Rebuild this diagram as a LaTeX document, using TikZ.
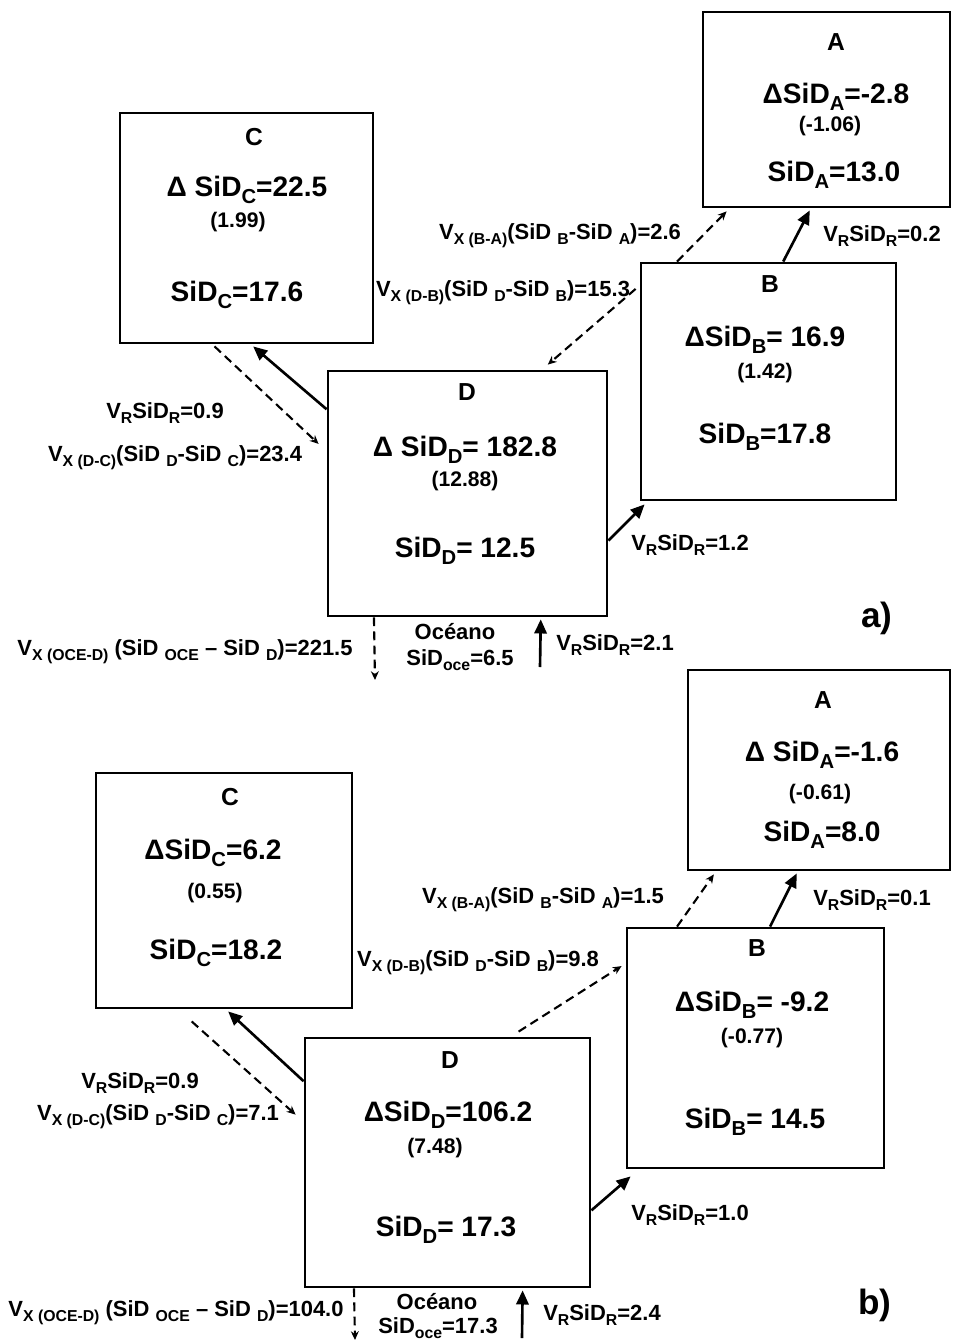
\documentclass[tikz,border=0pt]{standalone}
\usepackage{fontspec}
\usepackage{graphicx}
\setmainfont{Liberation Sans}
\usetikzlibrary{arrows.meta, calc}
\newcommand{\lo}[1]{\raisebox{-0.45ex}{\scalebox{0.72}{#1}}}

\begin{document}
\begin{tikzpicture}[x=0.02cm, y=-0.02cm,
    every node/.style={font=\bfseries\fontsize{12.5}{15}\selectfont, inner sep=1pt},
    box/.style 2 args={draw, line width=1.6pt, minimum width=#1*0.02cm,
                       minimum height=#2*0.02cm, inner sep=0pt},
    big/.style={font=\bfseries\fontsize{16}{19}\selectfont},
    ttl/.style={font=\bfseries\fontsize{14}{16}\selectfont},
    small/.style={font=\bfseries\fontsize{12}{14}\selectfont},
    flow/.style={line width=1.5pt, -{Triangle[length=8pt,width=7pt]}},
    mix/.style={line width=1.2pt, dash pattern=on 5pt off 3pt,
                -{Stealth[length=5pt,width=4.5pt]}},
  ]
  \useasboundingbox (0,0) rectangle (953,1342);

  % ---------- a) ----------
  \node[box={247}{195}] (aA) at (826.5,109.5) {};
  \node[box={253}{230}] (aC) at (246.5,228) {};
  \node[box={255}{237}] (aB) at (768.5,381.5) {};
  \node[box={279}{245}] (aD) at (467.5,493.5) {};

  \node[ttl]   (aAt) at (836,42)  {A};
  \node[big]   (aAd) at (836,97)  {ΔSiD\lo{A}=-2.8};
  \node[small] (aAp) at (830,126) {(-1.06)};
  \node[big]   (aAs) at (834,175) {SiD\lo{A}=13.0};

  \node[ttl]   (aCt) at (254,137) {C};
  \node[big]   (aCd) at (247,190) {Δ SiD\lo{C}=22.5};
  \node[small] (aCp) at (238,222) {(1.99)};
  \node[big]   (aCs) at (237,295) {SiD\lo{C}=17.6};

  \node[ttl]   (aBt) at (770,284) {B};
  \node[big]   (aBd) at (765,340) {ΔSiD\lo{B}= 16.9};
  \node[small] (aBp) at (765,373) {(1.42)};
  \node[big]   (aBs) at (765,437) {SiD\lo{B}=17.8};

  \node[ttl]   (aDt) at (467,392) {D};
  \node[big]   (aDd) at (465,450) {Δ SiD\lo{D}= 182.8};
  \node[small] (aDp) at (465,481) {(12.88)};
  \node[big]   (aDs) at (465,551) {SiD\lo{D}= 12.5};

  \draw[mix]  ($(aB.north west)!.145!(aB.north east)$)
           -- ($(aA.south west)!.10!(aA.south east)+(0,3)$);
  \draw[flow] ($(aB.north west)!.557!(aB.north east)$)
           -- ($(aA.south west)!.433!(aA.south east)+(0,2)$);
  \draw[mix]  ($(aB.north west)!.114!(aB.south west)+(-4,0)$)
           -- ($(aD.north west)!.785!(aD.north east)+(0,-5)$);
  \draw[flow] ($(aD.north west)!.16!(aD.south west)$)
           -- ($(aC.south west)!.526!(aC.south east)+(0,2)$);
  \draw[mix]  ($(aC.south west)!.375!(aC.south east)+(0,2)$)
           -- ($(aD.north west)!.30!(aD.south west)+(-8,0)$);
  \draw[flow] ($(aD.north east)!.69!(aD.south east)$)
           -- ($(aB.south west)+(5,3)$);
  \coordinate (aOut) at (375,680);
  \coordinate (aIn) at (540,667);
  \draw[mix]  ($(aD.south west)!.168!(aD.south east)$) -- (aOut);
  \draw[flow] (aIn) -- ($(aD.south west)!.76!(aD.south east)+(0,2)$);

  \node (aL1) at (560,236) {V\lo{X (B-A)}(SiD \lo{B}-SiD \lo{A})=2.6};
  \node (aL2) at (882,236) {V\lo{R}SiD\lo{R}=0.2};
  \node (aL3) at (503,293) {V\lo{X (D-B)}(SiD \lo{D}-SiD \lo{B})=15.3};
  \node (aL4) at (165,413) {V\lo{R}SiD\lo{R}=0.9};
  \node (aL5) at (175,458) {V\lo{X (D-C)}(SiD \lo{D}-SiD \lo{C})=23.4};
  \node (aL6) at (690,545) {V\lo{R}SiD\lo{R}=1.2};
  \node (aL7) at (185,652) {V\lo{X (OCE-D)} (SiD \lo{OCE} – SiD \lo{D})=221.5};
  \node (aOc) at (455,632) {Océano};
  \node (aOs) at (460,660) {SiD\lo{oce}=6.5};
  \node (aL8) at (615,645) {V\lo{R}SiD\lo{R}=2.1};
  \node[font=\bfseries\fontsize{20}{24}\selectfont] (aTag) at (877,618) {a)};

  % ---------- b) ----------
  \node[box={262}{200}] (bA) at (819,770) {};
  \node[box={256}{235}] (bC) at (224,890.5) {};
  \node[box={257}{240}] (bB) at (755.5,1048) {};
  \node[box={285}{249}] (bD) at (447.5,1162.5) {};

  \node[ttl]   (bAt) at (823,700)  {A};
  \node[big]   (bAd) at (822,755)  {Δ SiD\lo{A}=-1.6};
  \node[small] (bAp) at (820,794)  {(-0.61)};
  \node[big]   (bAs) at (822,835)  {SiD\lo{A}=8.0};

  \node[ttl]   (bCt) at (230,797)  {C};
  \node[big]   (bCd) at (213,853)  {ΔSiD\lo{C}=6.2};
  \node[small] (bCp) at (215,893)  {(0.55)};
  \node[big]   (bCs) at (216,953)  {SiD\lo{C}=18.2};

  \node[ttl]   (bBt) at (757,948)  {B};
  \node[big]   (bBd) at (752,1005) {ΔSiD\lo{B}= -9.2};
  \node[small] (bBp) at (752,1038) {(-0.77)};
  \node[big]   (bBs) at (755,1122) {SiD\lo{B}= 14.5};

  \node[ttl]   (bDt) at (450,1060) {D};
  \node[big]   (bDd) at (448,1115) {ΔSiD\lo{D}=106.2};
  \node[small] (bDp) at (435,1148) {(7.48)};
  \node[big]   (bDs) at (446,1230) {SiD\lo{D}= 17.3};

  \draw[mix]  ($(bB.north west)!.198!(bB.north east)$)
           -- ($(bA.south west)!.103!(bA.south east)+(0,3)$);
  \draw[flow] ($(bB.north west)!.556!(bB.north east)$)
           -- ($(bA.south west)!.416!(bA.south east)+(0,2)$);
  \draw[mix]  ($(bD.north west)!.747!(bD.north east)+(0,-5)$)
           -- ($(bB.north west)!.1625!(bB.south west)+(-4,0)$);
  \draw[flow] ($(bD.north west)!.177!(bD.south west)$)
           -- ($(bC.south west)!.516!(bC.south east)+(0,2)$);
  \draw[mix]  ($(bC.south west)!.375!(bC.south east)+(0,12)$)
           -- ($(bD.north west)!.31!(bD.south west)+(-8,0)$);
  \draw[flow] ($(bD.north east)!.69!(bD.south east)$)
           -- ($(bB.south west)+(5,7)$);
  \coordinate (bOut) at (355,1340);
  \coordinate (bIn) at (522,1338);
  \draw[mix]  ($(bD.south west)!.175!(bD.south east)$) -- (bOut);
  \draw[flow] (bIn) -- ($(bD.south west)!.761!(bD.south east)+(0,2)$);

  \node (bL1) at (543,900)  {V\lo{X (B-A)}(SiD \lo{B}-SiD \lo{A})=1.5};
  \node (bL2) at (872,900)  {V\lo{R}SiD\lo{R}=0.1};
  \node (bL3) at (478,963)  {V\lo{X (D-B)}(SiD \lo{D}-SiD \lo{B})=9.8};
  \node (bL4) at (140,1083) {V\lo{R}SiD\lo{R}=0.9};
  \node (bL5) at (158,1117) {V\lo{X (D-C)}(SiD \lo{D}-SiD \lo{C})=7.1};
  \node (bL6) at (690,1215) {V\lo{R}SiD\lo{R}=1.0};
  \node (bL7) at (176,1313) {V\lo{X (OCE-D)} (SiD \lo{OCE} – SiD \lo{D})=104.0};
  \node (bOc) at (437,1302) {Océano};
  \node (bOs) at (438,1328) {SiD\lo{oce}=17.3};
  \node (bL8) at (602,1315) {V\lo{R}SiD\lo{R}=2.4};
  \node[font=\bfseries\fontsize{20}{24}\selectfont] (bTag) at (875,1305) {b)};
\end{tikzpicture}
\end{document}
